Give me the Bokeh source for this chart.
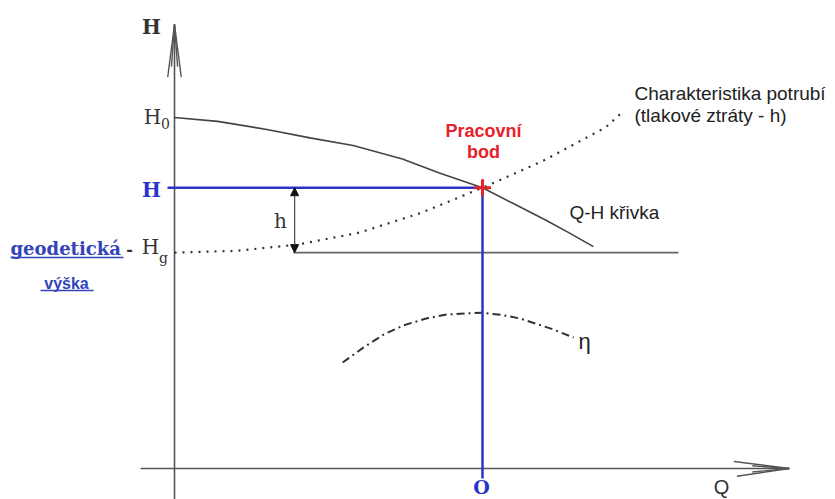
from bokeh.plotting import figure
from bokeh.models import Range1d, Arrow, NormalHead, Label
from bokeh.embed import file_html
from bokeh.resources import INLINE

# ---- data (Q, H in arbitrary chart units) ----
qh_q = [0.0, 0.7, 1.5, 2.2, 2.9, 3.7, 4.3, 5.0, 5.5, 6.0, 6.4, 6.8]
qh_h = [10.0, 9.89, 9.66, 9.42, 9.2, 8.82, 8.42, 8.0, 7.55, 7.1, 6.72, 6.32]
pipe_q = [0.0, 1.0, 2.0, 3.0, 4.0, 5.0, 6.0, 7.0, 7.25]
pipe_h = [6.15, 6.2, 6.38, 6.72, 7.28, 8.0, 8.78, 9.72, 10.12]
eta_q = [2.73, 3.07, 3.4, 3.72, 4.1, 4.43, 4.97, 5.3, 5.62, 6.15, 6.48]
eta_h = [3.02, 3.45, 3.82, 4.08, 4.28, 4.39, 4.44, 4.38, 4.27, 3.96, 3.73]
H0 = 10.0
Hg = 6.15
Q_op = 5.0
H_op = 8.0
q_axis = [-0.55, 9.98]
h_axis = [-1.0, 12.65]
hg_line = [1.93, 8.18]
h_arrow_q = 1.95

# pixel <-> data helpers for the label placement (image pixels)
SX, SY, OX, OY = 61.6, 35.1, 174.0, 468.0
def X(px):
    return (px - OX) / SX
def Y(py):
    return (OY - py) / SY

W, Hh = 835, 499
p = figure(width=W, height=Hh, output_backend="svg", toolbar_location=None,
           x_range=Range1d(X(0), X(W)), y_range=Range1d(Y(Hh), Y(0)),
           x_axis_type=None, y_axis_type=None, min_border=0,
           background_fill_color="white", border_fill_color="white")
p.grid.visible = False
p.outline_line_color = None

AX = "#555555"
BLUE = "#2a35c8"
RED = "#e6212b"

# axes
p.segment(x0=[0], y0=[h_axis[0]], x1=[0], y1=[h_axis[1]], line_color=AX, line_width=1.6)
p.segment(x0=[q_axis[0]], y0=[0], x1=[q_axis[1]], y1=[0], line_color=AX, line_width=1.6)
# arrowheads (long narrow open heads)
p.segment(x0=[0, 0, 0, 0], y0=[h_axis[1]] * 4,
          x1=[-0.11, 0.11, -0.05, 0.05], y1=[h_axis[1] - 1.5, h_axis[1] - 1.5, h_axis[1] - 1.2, h_axis[1] - 1.2],
          line_color=AX, line_width=1.4)
p.segment(x0=[q_axis[1]] * 4, y0=[0] * 4,
          x1=[q_axis[1] - 0.9, q_axis[1] - 0.85, q_axis[1] - 0.6, q_axis[1] - 0.6], y1=[0.2, -0.22, 0.08, -0.1],
          line_color=AX, line_width=1.4)

# Hg line
p.segment(x0=[hg_line[0]], y0=[Hg], x1=[hg_line[1]], y1=[Hg], line_color="#666666", line_width=1.6)

# Q-H curve
p.line(qh_q, qh_h, line_color="#444444", line_width=1.6)
# pipe characteristic
p.line(pipe_q, pipe_h, line_color="#333333", line_width=2.2, line_dash="2 6")
# efficiency
p.line(eta_q, eta_h, line_color="#333333", line_width=2, line_dash="8 4 2 4")

# blue lines
p.segment(x0=[X(167)], y0=[H_op], x1=[Q_op], y1=[H_op], line_color=BLUE, line_width=2.5)
p.segment(x0=[Q_op], y0=[H_op], x1=[Q_op], y1=[Y(478)], line_color=BLUE, line_width=2.5)

# h arrow
p.add_layout(Arrow(x_start=h_arrow_q, y_start=Hg, x_end=h_arrow_q, y_end=H_op,
                   line_color="#555555", line_width=1.3,
                   start=NormalHead(size=8, fill_color="#111111", line_color="#111111"),
                   end=NormalHead(size=8, fill_color="#111111", line_color="#111111")))

# operating point
p.scatter([Q_op], [H_op], marker="cross", size=17, line_width=3, line_color=RED)

def lab(txt, x, y, size, font="Liberation Sans", style="normal", color="#222222", align="left"):
    p.add_layout(Label(x=X(x), y=Y(y), text=txt, text_font=font, text_font_size=f"{size}px",
                       text_font_style=style, text_color=color, text_align=align,
                       text_baseline="middle"))

SER = "DejaVu Serif"
lab("H", 151, 26, 20, SER, "bold", "#333333", "center")
lab("H", 152, 116, 20, SER, "normal", "#333333", "center")
lab("0", 165, 123, 14, SER, "normal", "#333333", "center")
lab("H", 151, 189, 20, SER, "bold", BLUE, "center")
lab("H", 150, 246, 20, SER, "normal", "#333333", "center")
lab("g", 163, 257, 14, SER, "normal", "#333333", "center")
lab("geodetická", 10, 248, 18, SER, "bold", "#3344bb", "left")
p.segment(x0=[X(10)], y0=[Y(257)], x1=[X(123)], y1=[Y(257)], line_color="#3344bb", line_width=1.5)
lab("-", 129, 248, 16, SER, "bold", "#333333", "center")
lab("výška", 66, 283, 16, "Liberation Sans", "bold", "#3344bb", "center")
p.segment(x0=[X(40)], y0=[Y(290)], x1=[X(93)], y1=[Y(290)], line_color="#3344bb", line_width=1.5)
lab("h", 280, 220, 20, SER, "normal", "#333333", "center")
lab("Pracovní", 483, 130, 18, "Liberation Sans", "bold", RED, "center")
lab("bod", 483, 151, 18, "Liberation Sans", "bold", RED, "center")
lab("Charakteristika potrubí", 634, 93, 19, "Liberation Sans", "normal", "#222222", "left")
lab("(tlakové ztráty - h)", 634, 115, 19, "Liberation Sans", "normal", "#222222", "left")
lab("Q-H křivka", 569, 212, 19, "Liberation Sans", "normal", "#222222", "left")
lab("η", 578, 341, 22, "Liberation Sans", "normal", "#222222", "left")
lab("Q", 721, 486, 20, "Liberation Sans", "normal", "#333333", "center")
lab("O", 481, 486, 19, SER, "bold", BLUE, "center")

open("out.html", "w").write(file_html(p, INLINE))
